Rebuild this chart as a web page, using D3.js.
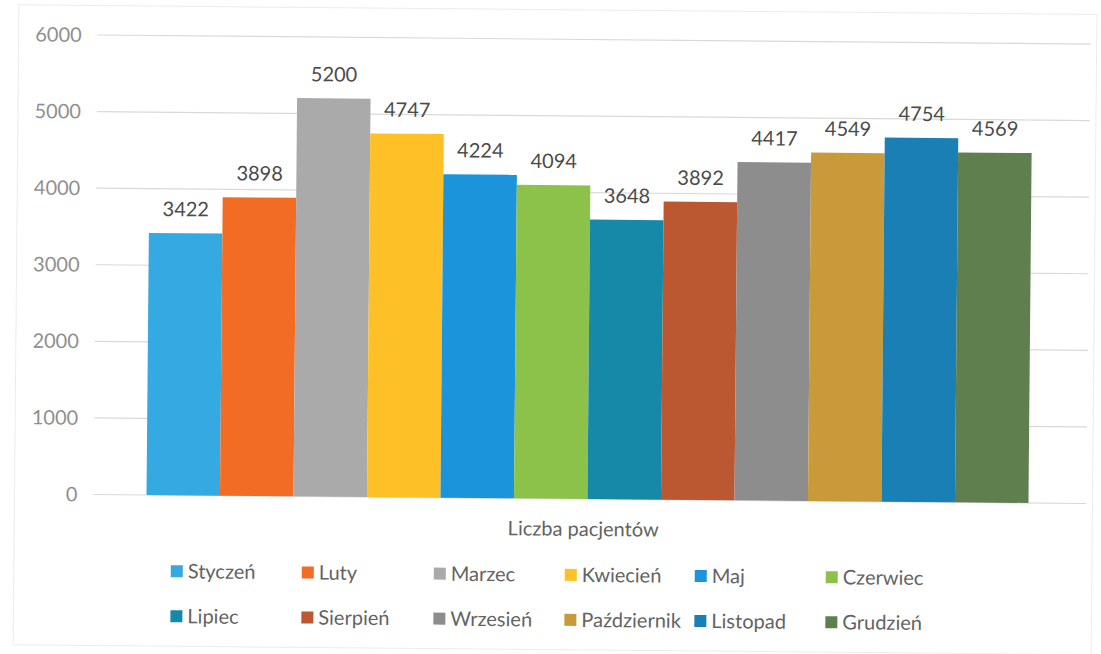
<!DOCTYPE html>
<html>
<head>
<meta charset="utf-8">
<script src="https://cdn.jsdelivr.net/npm/d3@7"></script>
<style>
    body { margin: 0; background: #fff; }
    text { font-family: Lato, "Open Sans", sans-serif; }
</style>
</head>
<body>
<div id="chart"></div>
<script>
// Monthly patient counts
const months = ['Styczeń', 'Luty', 'Marzec', 'Kwiecień', 'Maj', 'Czerwiec',
    'Lipiec', 'Sierpień', 'Wrzesień', 'Październik', 'Listopad', 'Grudzień'];
const patients = [3422, 3898, 5200, 4747, 4224, 4094, 3648, 3892, 4417, 4549, 4754, 4569];
const yTicks = [0, 1000, 2000, 3000, 4000, 5000, 6000];
const categoryLabel = 'Liczba pacjentów';
const palette = ['#34a9e2', '#f26d23', '#aaaaaa', '#fdc127', '#1b94dc', '#8cc24a',
    '#1789a8', '#bb5731', '#8d8d8e', '#c99a3a', '#1a7fb4', '#5f7f4f'];

const width = 1101;
const height = 654;

const svg = d3.select('#chart')
    .append('svg')
    .attr('width', width)
    .attr('height', height);

// the scan is tilted a little, so the whole chart is turned with it
const g = svg.append('g')
    .attr('transform', 'rotate(0.52, 590, 330)');

g.append('rect')
    .attr('x', 16).attr('y', 10)
    .attr('width', 1078).attr('height', 640)
    .attr('fill', 'none')
    .attr('stroke', '#ececec')
    .attr('stroke-width', 1);

const y = d3.scaleLinear().domain([0, 6000]).range([499, 39.5]);
const x = d3.scaleBand().domain(months).range([148, 1030]).padding(0);
const color = d3.scaleOrdinal().domain(months).range(palette);

// gridlines
g.selectAll('.grid')
    .data(yTicks)
    .enter()
    .append('line')
    .attr('x1', 95).attr('x2', 1088)
    .attr('y1', d => y(d)).attr('y2', d => y(d))
    .attr('stroke', '#d9d9d9')
    .attr('stroke-width', 1.2);

// y axis labels
g.selectAll('.tick-label')
    .data(yTicks)
    .enter()
    .append('text')
    .attr('x', 79)
    .attr('y', d => y(d))
    .attr('dy', '0.35em')
    .attr('text-anchor', 'end')
    .attr('fill', '#8f8f8f')
    .style('font-size', '20px')
    .text(d => d);

// bars
g.selectAll('.bar')
    .data(months)
    .enter()
    .append('rect')
    .attr('x', d => x(d))
    .attr('y', (d, i) => y(patients[i]))
    .attr('width', x.bandwidth())
    .attr('height', (d, i) => y(0) - y(patients[i]))
    .attr('fill', d => color(d));

// value labels
g.selectAll('.value')
    .data(months)
    .enter()
    .append('text')
    .attr('x', d => x(d) + x.bandwidth() / 2)
    .attr('y', (d, i) => y(patients[i]) - 17)
    .attr('text-anchor', 'middle')
    .attr('fill', '#4a4a4a')
    .style('font-size', '20px')
    .text((d, i) => patients[i]);

g.append('text')
    .attr('x', 585)
    .attr('y', 536)
    .attr('text-anchor', 'middle')
    .attr('fill', '#636363')
    .style('font-size', '20px')
    .text(categoryLabel);

// legend, 6 per row
const legendX = [173, 304, 436, 567, 697, 828];
const legendY = [575, 620];

const legend = g.selectAll('.legend')
    .data(months)
    .enter()
    .append('g')
    .attr('transform', (d, i) => `translate(${legendX[i % 6]}, ${legendY[Math.floor(i / 6)]})`);

legend.append('rect')
    .attr('x', 0).attr('y', -6)
    .attr('width', 12).attr('height', 12)
    .attr('fill', d => color(d));

legend.append('text')
    .attr('x', 17)
    .attr('y', 0)
    .attr('dy', '0.35em')
    .attr('fill', '#636363')
    .style('font-size', '20px')
    .text(d => d);
</script>
</body>
</html>
